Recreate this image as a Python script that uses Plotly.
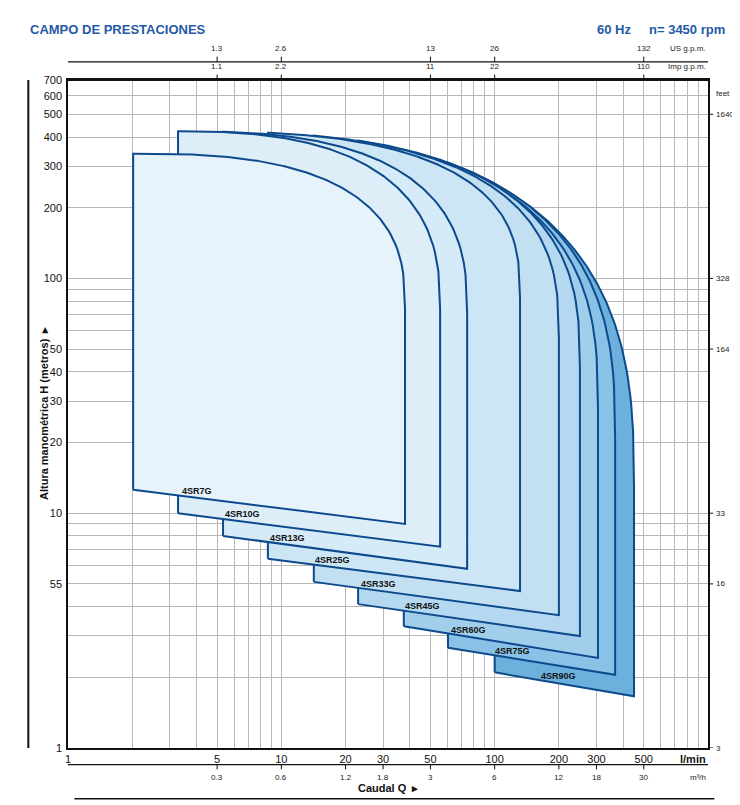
import numpy as np
import plotly.graph_objects as go

# ---- data ----
pumps = ["4SR7G", "4SR10G", "4SR13G", "4SR25G", "4SR33G", "4SR45G", "4SR60G", "4SR75G", "4SR90G"]
q_left = [2.02, 3.28, 5.33, 8.65, 14.2, 22.9, 37.5, 60.4, 100.0]       # l/min, left edge
q_right = [38.0, 55.5, 74.3, 131.5, 200.0, 251.0, 305.0, 367.0, 450.0]  # l/min, right edge
h_knee = [74.5, 74.5, 71.2, 82.3, 55.7, 41.7, 27.9, 20.8, 12.8]         # m, where right edge becomes vertical
h_bot_left = [12.6, 10.0, 8.0, 6.4, 5.1, 4.1, 3.3, 2.67, 2.1]
h_bot_right = [9.0, 7.2, 5.8, 4.66, 3.68, 3.0, 2.42, 2.05, 1.66]
q_origin = [2.02, 3.28, 3.28, 3.28, 3.28, 3.28, 3.28, 3.28, 3.28]     # start of top curve
h_top = [340, 423, 423, 423, 423, 423, 423, 423, 423]                  # max head
shape_p = [2.7, 2.6, 2.7, 2.8, 2.8, 2.8, 2.8, 2.8, 2.8]

fills = ["#e7f3fb", "#ddeef9", "#d6ebf8", "#cde6f5", "#c3e0f3", "#b4d8f0", "#a0ceeb", "#89c2e6", "#6cb0de"]
edge = "#0d4a8c"

x_grid = [1,2,3,4,5,6,7,8,9,10,20,30,40,50,60,70,80,90,100,200,300,400,500,600,700,800,900,1000]
x_lab = {1:"1",5:"5",10:"10",20:"20",30:"30",50:"50",100:"100",200:"200",300:"300",500:"500"}
y_grid = [1,2,3,4,5,6,7,8,9,10,20,30,40,50,60,70,80,90,100,200,300,400,500,600,700]
y_lab = {1:"1",5:"55",10:"10",20:"20",30:"30",40:"40",50:"50",100:"100",200:"200",300:"300",400:"400",500:"500",600:"600",700:"700"}
m3h_pos = [5,10,20,30,50,100,200,300,500]; m3h_lab = ["0.3","0.6","1.2","1.8","3","6","12","18","30"]
gpm_pos = [5,10,50,100,500]; us_lab = ["1.3","2.6","13","26","132"]; imp_lab = ["1.1","2.2","11","22","110"]
feet_pos = [500,100,50,10,5,1]; feet_lab = ["1640","328","164","33","16","3"]

fig = go.Figure()
font = "Liberation Sans Narrow, Liberation Sans, Arial"

def outline(i):
    lq0, lh0 = np.log10(q_origin[i]), np.log10(h_top[i])
    lqr, lhk = np.log10(q_right[i]), np.log10(h_knee[i])
    p = shape_p[i]
    lql = np.log10(q_left[i])
    s = np.linspace((lql - lq0) / (lqr - lq0), 1, 150)
    lq = lq0 + (lqr - lq0) * s
    lh = lhk + (lh0 - lhk) * np.clip(1 - s ** p, 0, 1) ** (1 / p)
    qs = [q_left[i]] + list(10 ** lq) + [q_right[i], q_left[i]]
    hs = [h_bot_left[i]] + list(10 ** lh) + [h_bot_right[i], h_bot_left[i]]
    return qs, hs

for i in reversed(range(len(pumps))):
    qs, hs = outline(i)
    fig.add_trace(go.Scatter(x=qs, y=hs, mode="lines", fill="toself", fillcolor=fills[i],
                             line=dict(color=edge, width=2), hoverinfo="skip", showlegend=False))
    lq = q_left[i] * 2.0
    t = (np.log10(lq) - np.log10(q_left[i])) / (np.log10(q_right[i]) - np.log10(q_left[i]))
    hl = 10 ** (np.log10(h_bot_left[i]) + t * (np.log10(h_bot_right[i]) - np.log10(h_bot_left[i])))
    fig.add_annotation(x=np.log10(lq), y=np.log10(hl), text="<b>" + pumps[i] + "</b>", showarrow=False,
                       yshift=7, font=dict(size=9, family=font, color="#111"))

fig.update_xaxes(type="log", range=[0, 3], tickvals=x_grid, ticktext=[x_lab.get(v, "") for v in x_grid],
                 showgrid=True, gridcolor="#b8b8b8", gridwidth=1, showline=True, linecolor="#111", linewidth=1.5,
                 mirror=True, ticks="", tickfont=dict(size=11, family=font, color="#111"), zeroline=False,
                 automargin=False)
fig.update_yaxes(type="log", range=[0, np.log10(700)], tickvals=y_grid, ticktext=[y_lab.get(v, "") for v in y_grid],
                 showgrid=True, gridcolor="#b8b8b8", gridwidth=1, showline=True, linecolor="#111", linewidth=1.5,
                 mirror=True, ticks="", tickfont=dict(size=11, family=font, color="#111"), zeroline=False,
                 automargin=False, ticklabelstandoff=2)

shapes = []
def pline(x0, y0, x1, y1, w=1.2):
    shapes.append(dict(type="line", xref="paper", yref="paper", x0=x0, y0=y0, x1=x1, y1=y1,
                       line=dict(color="#111", width=w)))
pline(0, 1, 1, 1, 2)
pline(0, 1.027, 1, 1.027, 1.2)
pline(0, -0.025, 1, -0.025, 1.2)
pline(0.01, -0.076, 1.01, -0.076, 1.5)
pline(-0.062, 0, -0.062, 1.0, 2)
for q in gpm_pos:
    shapes.append(dict(type="line", xref="x", yref="paper", x0=q, x1=q, y0=1.027, y1=1.035, line=dict(color="#111", width=1)))
    shapes.append(dict(type="line", xref="x", yref="paper", x0=q, x1=q, y0=1.0, y1=1.008, line=dict(color="#111", width=1)))
for q in m3h_pos:
    shapes.append(dict(type="line", xref="x", yref="paper", x0=q, x1=q, y0=-0.025, y1=-0.032, line=dict(color="#111", width=1)))
for h in feet_pos:
    shapes.append(dict(type="line", xref="paper", yref="y", x0=1, x1=1.008, y0=h, y1=h, line=dict(color="#111", width=1)))
fig.update_layout(shapes=shapes)

small = dict(size=8, family=font, color="#222")
for q, u, m in zip(gpm_pos, us_lab, imp_lab):
    fig.add_annotation(x=np.log10(q), y=1.038, yref="paper", text=u, showarrow=False, yanchor="bottom", font=small)
    fig.add_annotation(x=np.log10(q), y=1.011, yref="paper", text=m, showarrow=False, yanchor="bottom", font=small)
fig.add_annotation(x=1, y=1.038, xref="paper", yref="paper", text="US g.p.m.", showarrow=False, xanchor="right", yanchor="bottom", font=small)
fig.add_annotation(x=1, y=1.011, xref="paper", yref="paper", text="Imp g.p.m.", showarrow=False, xanchor="right", yanchor="bottom", font=small)
for q, m in zip(m3h_pos, m3h_lab):
    fig.add_annotation(x=np.log10(q), y=-0.035, yref="paper", text=m, showarrow=False, yanchor="top", font=small)
fig.add_annotation(x=1, y=-0.035, xref="paper", yref="paper", text="m³/h", showarrow=False, xanchor="right", yanchor="top", font=small)
for h, f in zip(feet_pos, feet_lab):
    fig.add_annotation(x=1.01, y=np.log10(h), xref="paper", text=f, showarrow=False, xanchor="left", font=small)
fig.add_annotation(x=1.01, y=0.99, xref="paper", yref="paper", text="feet", showarrow=False, xanchor="left", font=small)
fig.add_annotation(x=1.0, y=-0.004, xref="paper", yref="paper", text="<b>l/min</b>", showarrow=False, xanchor="right",
                   yanchor="top", font=dict(size=11, family=font, color="#111"))
fig.add_annotation(x=0.5, y=-0.048, xref="paper", yref="paper", text="<b>Caudal Q  ▸</b>", showarrow=False,
                   yanchor="top", font=dict(size=11, family=font, color="#111"))
fig.add_annotation(x=-0.05, y=0.5, xref="paper", yref="paper", text="<b>Altura manométrica H (metros)  ▸</b>",
                   showarrow=False, textangle=-90, font=dict(size=11, family=font, color="#111"))
fig.add_annotation(x=-0.063, y=1.09, xref="paper", yref="paper", text="<b>CAMPO DE PRESTACIONES</b>", showarrow=False,
                   xanchor="left", font=dict(size=13, family=font, color="#1f5aa6"))
fig.add_annotation(x=1.03, y=1.09, xref="paper", yref="paper", text="<b>60 Hz     n= 3450 rpm</b>", showarrow=False,
                   xanchor="right", font=dict(size=13, family=font, color="#1f5aa6"))

fig.update_layout(width=740, height=805, margin=dict(l=60, r=40, t=72, b=65),
                  plot_bgcolor="white", paper_bgcolor="white")
fig.write_html("out.html")
